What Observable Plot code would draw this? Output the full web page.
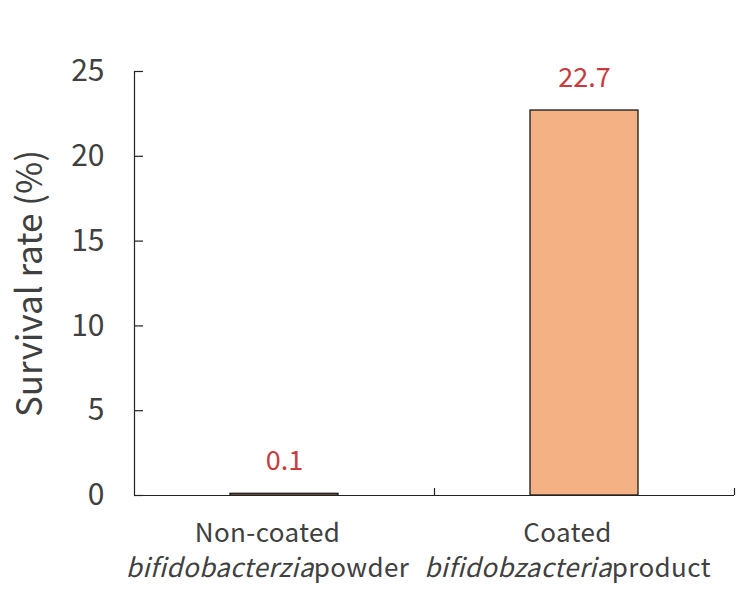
<!DOCTYPE html>
<html>
<head>
<meta charset="utf-8">
<script src="https://cdn.jsdelivr.net/npm/d3@7"></script>
<script src="https://cdn.jsdelivr.net/npm/@observablehq/plot@0.6"></script>
<style>
  html, body { margin: 0; padding: 0; background: #fff; }
  #chart svg { display: block; }
</style>
</head>
<body>
<div id="chart"></div>
<script>
const categories = ["Non-coated", "Coated"];
const italicParts = ["bifidobacterzia", "bifidobzacteria"];
const normalParts = ["powder", "product"];
const values = [0.1, 22.7];
const yTicks = [0, 5, 10, 15, 20, 25];

const data = categories.map((c, i) => ({
  cat: c,
  label: c + "\n" + italicParts[i] + " " + normalParts[i],
  value: values[i]
}));

const FONT = "'Noto Sans CJK JP', 'Noto Sans', sans-serif";

const chart = Plot.plot({
  width: 750,
  height: 596,
  marginLeft: 134,
  marginRight: 16,
  marginTop: 71,
  marginBottom: 101,
  style: { fontFamily: FONT, background: "#fff", color: "#404040" },
  x: { domain: categories, padding: 0, axis: null },
  y: { domain: [0, 25], axis: null },
  marks: [
    Plot.barY(data, {x: "cat", y: "value", fill: "#F4B183", stroke: "#1a1a1a", strokeWidth: 1.3, insetLeft: 96, insetRight: 96}),
    Plot.frame({anchor: "left", stroke: "#222", strokeWidth: 1.2}),
    Plot.ruleY([0], {stroke: "#222", strokeWidth: 1.2}),
    Plot.axisY({ticks: yTicks, tickSize: -9, text: null, stroke: "#222", strokeWidth: 1.2, label: null}),
    Plot.axisY({ticks: yTicks, tickSize: 0, tickPadding: 30, fontSize: 30, fill: "#404040", label: null}),
    Plot.axisX({tickSize: -7, text: null, dx: 150, stroke: "#222", strokeWidth: 1.2, label: null}),
    Plot.text(["Survival rate (%)"], {frameAnchor: "left", textAnchor: "middle", rotate: -90, dx: -104, fontSize: 35, fill: "#404040", text: d => d}),
    Plot.text(data, {x: "cat", y: "value", text: d => String(d.value), dy: -32, fontSize: 27, fill: "#C83A3C"}),
    Plot.text(data, {x: "cat", y: 0, text: "label", dy: 53, dx: -17, fontSize: 26, lineHeight: 1.34, fill: "#404040", className: "catlabel"})
  ]
});

d3.select(chart).selectAll(".catlabel text").each(function() {
  d3.select(this).style("letter-spacing", "0.4px");
  const lines = d3.select(this).selectAll("tspan");
  const second = lines.filter((d, i) => i === 1);
  if (second.empty()) return;
  const s = second.text();
  const k = s.indexOf(" ");
  const it = s.slice(0, k), rest = s.slice(k + 1);
  second.text(null);
  second.append("tspan").attr("font-style", "italic").text(it);
  second.append("tspan").text(rest);
});

document.getElementById("chart").appendChild(chart);
</script>
</body>
</html>
